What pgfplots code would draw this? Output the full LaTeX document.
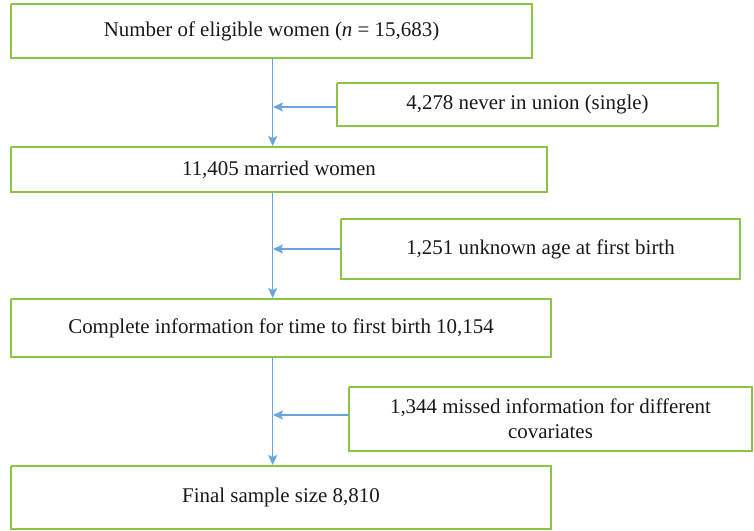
\documentclass[border=0pt]{standalone}
\usepackage{fontspec}
\setmainfont{Liberation Serif}
\usepackage{pgfplots}
\pgfplotsset{compat=1.18}
\usetikzlibrary{arrows.meta}
\definecolor{boxgreen}{RGB}{140,196,70}
\definecolor{arrblue}{RGB}{104,164,222}
\tikzset{lbl/.style={font=\fontsize{21}{25}\selectfont, text=black!90}}

\begin{document}
\begin{tikzpicture}
\begin{axis}[width=754bp, height=531bp, scale only axis,
  xmin=0, xmax=754, ymin=0, ymax=531, y dir=reverse,
  hide axis, clip=false]
% frame so the page keeps the full size
\addplot[draw=none] coordinates {(0,0) (754,531)};
% boxes
\addplot[draw=boxgreen, line width=1.3pt] coordinates {(11,4) (532,4) (532,58) (11,58) (11,4)};
\addplot[draw=boxgreen, line width=1.3pt] coordinates {(337,83) (718,83) (718,126) (337,126) (337,83)};
\addplot[draw=boxgreen, line width=1.3pt] coordinates {(11,147) (547,147) (547,192) (11,192) (11,147)};
\addplot[draw=boxgreen, line width=1.3pt] coordinates {(341,219) (740,219) (740,279) (341,279) (341,219)};
\addplot[draw=boxgreen, line width=1.3pt] coordinates {(11,299) (551,299) (551,357) (11,357) (11,299)};
\addplot[draw=boxgreen, line width=1.3pt] coordinates {(349,387) (752,387) (752,451) (349,451) (349,387)};
\addplot[draw=boxgreen, line width=1.3pt] coordinates {(11,466) (551,466) (551,529) (11,529) (11,466)};
% vertical arrows
\addplot[draw=arrblue, line width=1.2pt, -{Stealth[length=10pt,width=9pt,inset=2pt]}] coordinates {(272.7,58) (272.7,146)};
\addplot[draw=arrblue, line width=1.2pt, -{Stealth[length=10pt,width=9pt,inset=2pt]}] coordinates {(272.7,192) (272.7,298)};
\addplot[draw=arrblue, line width=1.2pt, -{Stealth[length=10pt,width=9pt,inset=2pt]}] coordinates {(272.7,357) (272.7,465)};
% horizontal arrows
\addplot[draw=arrblue, line width=1.2pt, -{Stealth[length=10pt,width=9pt,inset=2pt]}] coordinates {(337,107) (273,107)};
\addplot[draw=arrblue, line width=1.2pt, -{Stealth[length=10pt,width=9pt,inset=2pt]}] coordinates {(341,249) (273,249)};
\addplot[draw=arrblue, line width=1.2pt, -{Stealth[length=10pt,width=9pt,inset=2pt]}] coordinates {(349,415) (273,415)};
% labels
\node[lbl] at (axis cs:271.5,31) {Number of eligible women (\textit{n} = 15,683)};
\node[lbl] at (axis cs:527.5,104.5) {4,278 never in union (single)};
\node[lbl] at (axis cs:279,169.5) {11,405 married women};
\node[lbl] at (axis cs:540.5,249) {1,251 unknown age at first birth};
\node[lbl] at (axis cs:281,328) {Complete information for time to first birth 10,154};
\node[lbl, align=center] at (axis cs:550.5,419) {1,344 missed information for different\\covariates};
\node[lbl] at (axis cs:281,497.5) {Final sample size 8,810};
\end{axis}
\end{tikzpicture}
\end{document}
